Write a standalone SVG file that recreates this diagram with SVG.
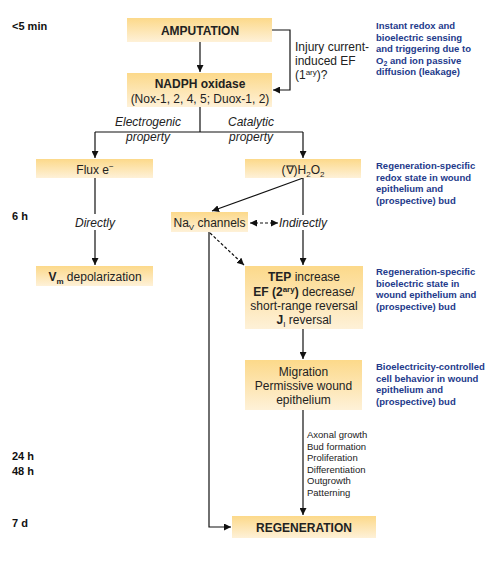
<svg xmlns="http://www.w3.org/2000/svg" width="500" height="564" viewBox="0 0 500 564">
<defs>
<linearGradient id="g" x1="0" y1="0" x2="0" y2="1">
<stop offset="0" stop-color="#fcd98a"/>
<stop offset="1" stop-color="#fef1d8"/>
</linearGradient>
<marker id="ah" viewBox="0 0 10 10" refX="10" refY="5" markerWidth="7" markerHeight="7" markerUnits="userSpaceOnUse" orient="auto-start-reverse">
<path d="M0,0 L10,5 L0,10 z" fill="#111"/>
</marker>
<style>
text{font-family:"Liberation Sans",Arial,Helvetica,sans-serif;fill:#222;font-size:12px}
.b{font-weight:bold}
.i{font-style:italic}
.c{text-anchor:middle}
.blue{font-size:9.5px;font-weight:bold;fill:#233a8b}
.time{font-size:11px;font-weight:bold;fill:#111}
.sm{font-size:9.5px}
.box{fill:url(#g);stroke:none}
.ln{fill:none;stroke:#111;stroke-width:1.2}
.da{stroke-dasharray:3,2}
</style>
</defs>
<rect width="500" height="564" fill="#fff"/>

<g id="times">
<text class="time" x="12" y="30">&lt;5 min</text>
<text class="time" x="12" y="220">6 h</text>
<text class="time" x="12" y="460">24 h</text>
<text class="time" x="12" y="475">48 h</text>
<text class="time" x="12" y="527">7 d</text>
</g>

<g id="connectors">
<path class="ln" d="M200,42 V72" marker-end="url(#ah)"/>
<path class="ln" d="M272,30 H290 V90 H273" marker-end="url(#ah)"/>
<path class="ln" d="M200,107 V132 M95,132 H303"/>
<path class="ln" d="M95,132 V158" marker-end="url(#ah)"/>
<path class="ln" d="M303,132 V158" marker-end="url(#ah)"/>
<path class="ln" d="M95,178 V214"/>
<path class="ln" d="M95,230 V265" marker-end="url(#ah)"/>
<path class="ln" d="M303,178 L212,211" marker-end="url(#ah)"/>
<path class="ln" d="M303,178 V215"/>
<path class="ln" d="M303,230 V265" marker-end="url(#ah)"/>
<path class="ln da" d="M250,223 H278" marker-start="url(#ah)" marker-end="url(#ah)"/>
<path class="ln da" d="M210,233 L244,265" marker-end="url(#ah)"/>
<path class="ln" d="M209,232 V527 H231" marker-end="url(#ah)"/>
<path class="ln" d="M303,329 V359" marker-end="url(#ah)"/>
<path class="ln" d="M303,410 V515" marker-end="url(#ah)"/>
</g>

<g id="labels">
<text x="295" y="51">Injury current-</text>
<text x="295" y="65">induced EF</text>
<text x="295" y="79">(1<tspan font-size="8" dy="-4">ary</tspan><tspan dy="4">)?</tspan></text>
<text class="i c" x="148" y="126">Electrogenic</text>
<text class="i c" x="148" y="141">property</text>
<text class="i c" x="251" y="126">Catalytic</text>
<text class="i c" x="251" y="141">property</text>
<text class="i c" x="95" y="227">Directly</text>
<text class="i c" x="303" y="227">Indirectly</text>
<text class="sm" x="307" y="438">Axonal growth</text>
<text class="sm" x="307" y="449.5">Bud formation</text>
<text class="sm" x="307" y="461">Proliferation</text>
<text class="sm" x="307" y="472.5">Differentiation</text>
<text class="sm" x="307" y="484">Outgrowth</text>
<text class="sm" x="307" y="495.5">Patterning</text>
</g>

<g id="notes">
<text class="blue" x="376" y="29">Instant redox and</text>
<text class="blue" x="376" y="40.5">bioelectric sensing</text>
<text class="blue" x="376" y="52">and triggering due to</text>
<text class="blue" x="376" y="63.5">O<tspan font-size="7" dy="2">2</tspan><tspan dy="-2"> and ion passive</tspan></text>
<text class="blue" x="376" y="75">diffusion (leakage)</text>

<text class="blue" x="376" y="169">Regeneration-specific</text>
<text class="blue" x="376" y="180.5">redox state in wound</text>
<text class="blue" x="376" y="192">epithelium and</text>
<text class="blue" x="376" y="203.5">(prospective) bud</text>

<text class="blue" x="376" y="275">Regeneration-specific</text>
<text class="blue" x="376" y="286.5">bioelectric state in</text>
<text class="blue" x="376" y="298">wound epithelium and</text>
<text class="blue" x="376" y="309.5">(prospective) bud</text>

<text class="blue" x="376" y="370">Bioelectricity-controlled</text>
<text class="blue" x="376" y="381.5">cell behavior in wound</text>
<text class="blue" x="376" y="393">epithelium and</text>
<text class="blue" x="376" y="404.5">(prospective) bud</text>
</g>

<g id="amputation">
<rect class="box" x="127" y="18" width="145" height="24"/>
<text class="b c" x="200" y="35" font-size="11.5">AMPUTATION</text>
</g>

<g id="nadph">
<rect class="box" x="127" y="73" width="145" height="34"/>
<text class="b c" x="200" y="88">NADPH oxidase</text>
<text class="c" x="200" y="103">(Nox-1, 2, 4, 5; Duox-1, 2)</text>
</g>

<g id="flux">
<rect class="box" x="36" y="159" width="117" height="19"/>
<text class="c" x="95" y="174">Flux e<tspan font-size="8" dy="-5">−</tspan></text>
</g>

<g id="h2o2">
<rect class="box" x="245" y="159" width="116" height="19"/>
<text class="c" x="303" y="174">(∇)H<tspan font-size="8" dy="3">2</tspan><tspan dy="-3">O</tspan><tspan font-size="8" dy="3">2</tspan></text>
</g>

<g id="vm">
<rect class="box" x="36" y="266" width="117" height="20"/>
<text class="c" x="95" y="281"><tspan class="b">V</tspan><tspan class="b" font-size="8" dy="3">m</tspan><tspan dy="-3"> depolarization</tspan></text>
</g>

<g id="nav">
<rect class="box" x="171" y="212" width="77" height="20"/>
<text class="c" x="209.5" y="227">Na<tspan font-size="8" dy="3">V</tspan><tspan dy="-3"> channels</tspan></text>
</g>

<g id="tep">
<rect class="box" x="245" y="266" width="118" height="63"/>
<text class="c" x="304" y="281"><tspan class="b">TEP</tspan> increase</text>
<text class="c" x="304" y="295.5"><tspan class="b">EF (2</tspan><tspan class="b" font-size="8" dy="-4">ary</tspan><tspan class="b" dy="4">)</tspan> decrease/</text>
<text class="c" x="304" y="310">short-range reversal</text>
<text class="c" x="304" y="324"><tspan class="b">J</tspan><tspan font-size="8" dy="3">I</tspan><tspan dy="-3"> reversal</tspan></text>
</g>

<g id="migration">
<rect class="box" x="245" y="360" width="117" height="50"/>
<text class="c" x="303.5" y="376">Migration</text>
<text class="c" x="303.5" y="390">Permissive wound</text>
<text class="c" x="303.5" y="404">epithelium</text>
</g>

<g id="regeneration">
<rect class="box" x="232" y="516" width="144" height="22"/>
<text class="b c" x="304" y="532" font-size="11.7">REGENERATION</text>
</g>
</svg>
